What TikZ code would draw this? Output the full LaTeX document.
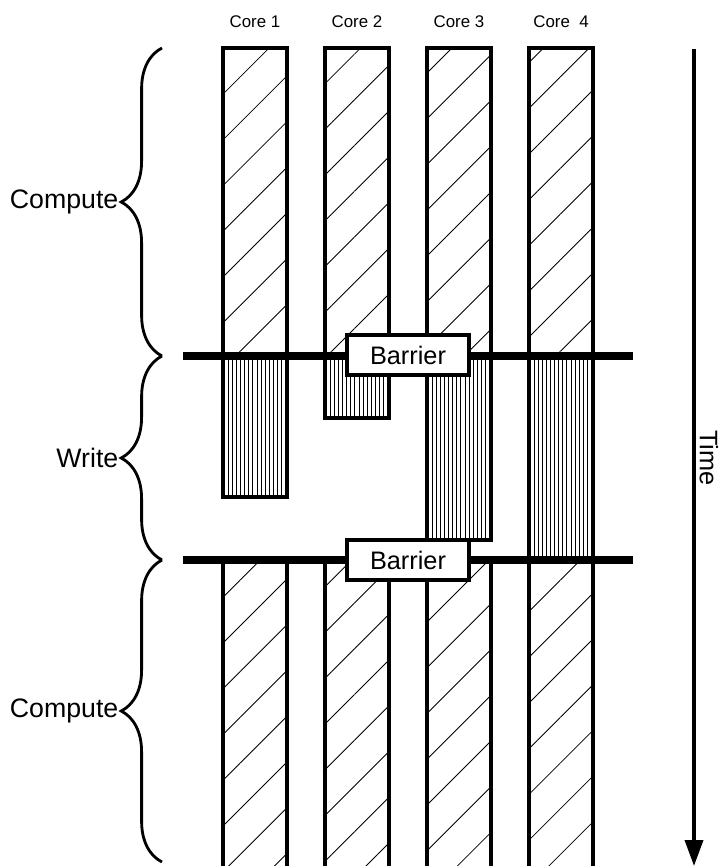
\documentclass[tikz,border=0pt]{standalone}
\usepackage{fontspec}
\setmainfont{Liberation Sans}
\usetikzlibrary{patterns.meta,arrows.meta,decorations.pathreplacing}

\tikzset{
  computebar/.style={draw,line width=2.2pt,pattern={Lines[angle=45,distance=23pt,line width=0.6pt]}},
  writebar/.style={draw,line width=2.2pt,pattern={Lines[angle=90,distance=2.9pt,line width=0.5pt]}},
  barrierline/.style={line width=5.4pt},
  barrierbox/.style={draw,fill=white,line width=2.2pt,minimum width=3.05cm,minimum height=1.0cm,inner sep=0pt,font=\fontsize{18}{20}\selectfont},
  phasebrace/.style={decorate,decoration={brace,amplitude=1.02cm},line width=2pt},
  phaselbl/.style={anchor=east,inner sep=1pt,font=\fontsize{19}{22}\selectfont},
  corelbl/.style={font=\fontsize{12}{14}\selectfont}
}

\begin{document}
\begin{tikzpicture}[x=0.025cm,y=-0.025cm]
                \clip (0,0) rectangle (722,866);
                % core labels
                \node[corelbl] (core1) at (255,22) {Core 1};
                \node[corelbl] (core2) at (357,22) {Core 2};
                \node[corelbl] (core3) at (459,22) {Core 3};
                \node[corelbl] (core4) at (561,22) {Core~~4};
                % first compute phase
                \draw[computebar] (223,48) rectangle (287,356);
                \draw[computebar] (325,48) rectangle (389,356);
                \draw[computebar] (427,48) rectangle (491,356);
                \draw[computebar] (529,48) rectangle (593,356);
                % write phase
                \draw[writebar] (223,356) rectangle (287,497);
                \draw[writebar] (325,356) rectangle (389,418);
                \draw[writebar] (427,356) rectangle (491,540);
                \draw[writebar] (529,356) rectangle (593,560);
                % second compute phase
                \draw[computebar] (223,560) rectangle (287,880);
                \draw[computebar] (325,560) rectangle (389,880);
                \draw[computebar] (427,560) rectangle (491,880);
                \draw[computebar] (529,560) rectangle (593,880);
                % barriers
                \coordinate (bar1w) at (183,356);
                \coordinate (bar1e) at (633,356);
                \coordinate (bar2w) at (183,560);
                \coordinate (bar2e) at (633,560);
                \draw[barrierline] (bar1w) -- (bar1e);
                \draw[barrierline] (bar2w) -- (bar2e);
                \node[barrierbox] (barrier1) at (408,355) {Barrier};
                \node[barrierbox] (barrier2) at (408,560) {Barrier};
                % braces
                \coordinate (br0) at (162,48);
                \coordinate (br1) at (162,356);
                \coordinate (br2) at (162,560);
                \coordinate (br3) at (162,862);
                \draw[phasebrace] (br1) -- (br0);
                \draw[phasebrace] (br2) -- (br1);
                \draw[phasebrace] (br3) -- (br2);
                \node[phaselbl] (compute1) at (120,202) {Compute};
                \node[phaselbl] (write) at (120,458) {Write};
                \node[phaselbl] (compute2) at (120,711) {Compute};
                % time axis
                \coordinate (t0) at (694,49);
                \coordinate (t1) at (694,866);
                \draw[line width=2.6pt,-{Triangle[width=0.45cm,length=0.65cm]}] (t0) -- (t1);
                \node[rotate=-90,font=\fontsize{18}{20}\selectfont] (time) at (709,458) {Time};
            \end{tikzpicture}
\end{document}
